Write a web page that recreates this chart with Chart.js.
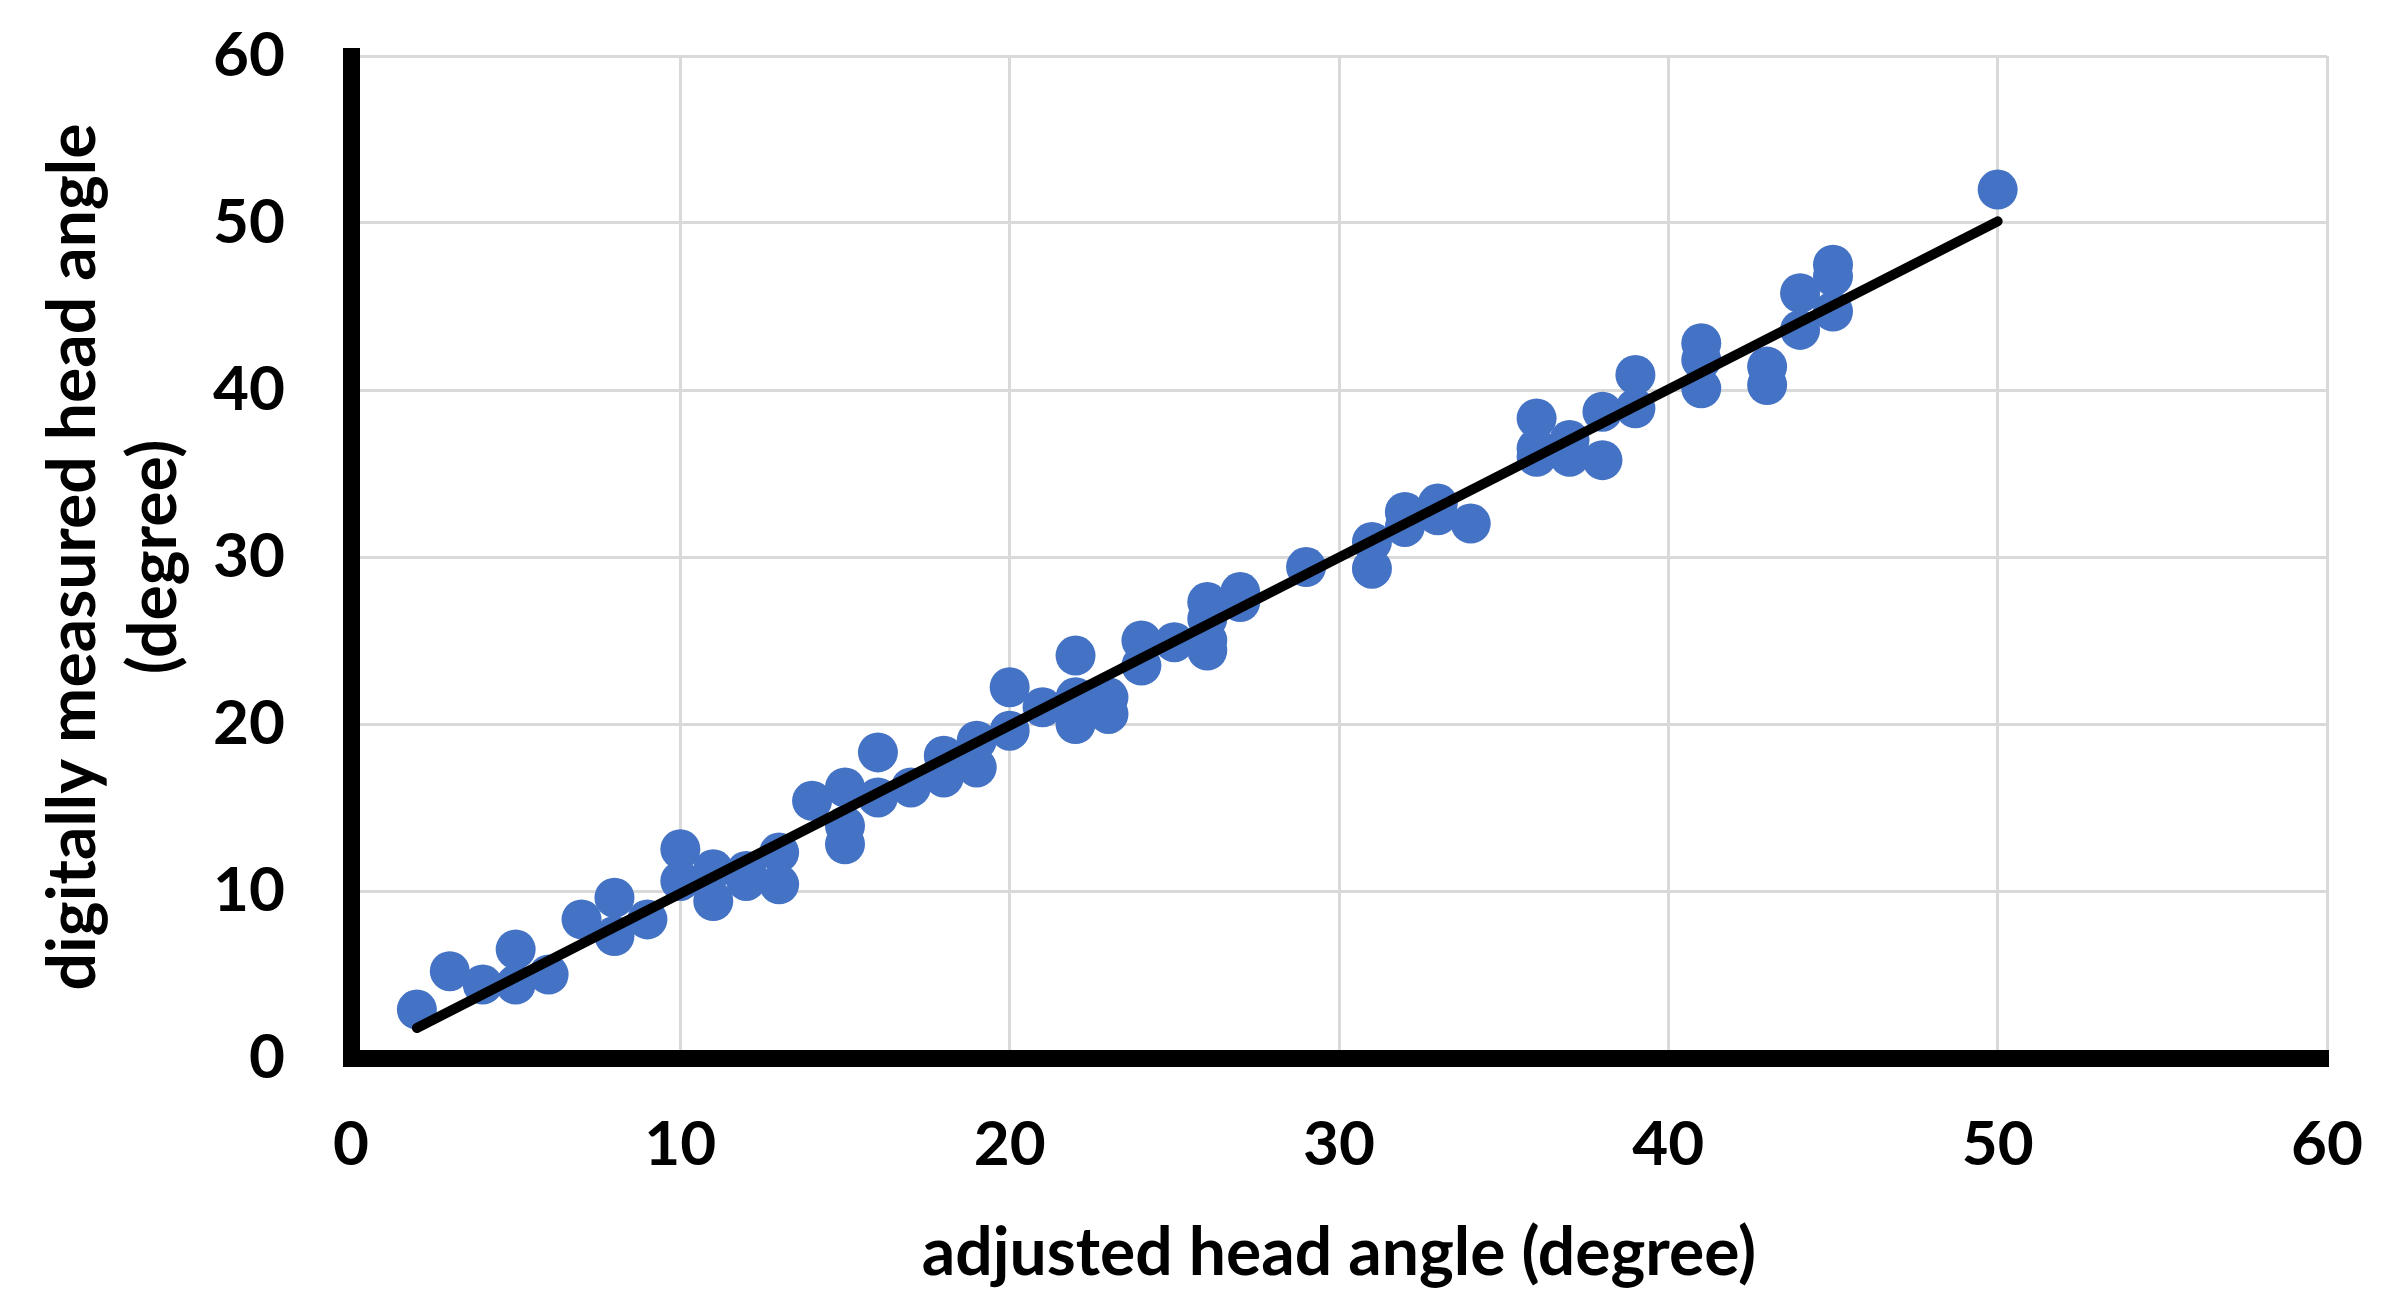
<!DOCTYPE html>
<html>
<head>
<meta charset="utf-8">
<script src="https://cdn.jsdelivr.net/npm/chart.js@4"></script>
<style>
  html, body { margin: 0; padding: 0; background: #fff; }
  #wrap { width: 2392px; height: 1314px; }
</style>
</head>
<body>
<div id="wrap"><canvas id="grafico" width="2392" height="1314"></canvas></div>
<script>
// adjusted head angle (x) vs digitally measured head angle (y)
const anguloAjustado = [
    2, 3, 4, 5, 5, 6, 7, 8, 8, 9,
    10, 10, 11, 11, 12, 12, 13, 13, 14, 15, 15, 15, 16, 16, 17, 18, 18, 19, 19,
    20, 20, 21, 22, 22, 22, 23, 23, 24, 24, 25, 26, 26, 26, 26, 27, 27, 29,
    31, 31, 32, 32, 33, 33, 34, 36, 36, 36, 37, 37, 38, 38, 39, 39,
    41, 41, 41, 43, 43, 44, 44, 45, 45, 45, 50
]
const anguloMedido = [
    2.9, 5.2, 4.4, 6.5, 4.4, 5.0, 8.3, 9.6, 7.3, 8.3,
    12.5, 10.6, 11.3, 9.4, 11.2, 10.6, 12.3, 10.4, 15.4, 16.2, 13.9, 12.8, 18.3, 15.6, 16.2, 18.1, 16.8, 19.0, 17.4,
    22.2, 19.6, 21.0, 24.1, 21.6, 20.0, 21.6, 20.6, 25.0, 23.5, 24.9, 27.3, 26.3, 25.0, 24.4, 27.9, 27.3, 29.4,
    30.9, 29.3, 32.7, 31.8, 33.2, 32.5, 32.0, 38.3, 36.5, 36.0, 37.0, 36.0, 38.7, 35.8, 40.9, 38.9,
    42.8, 41.8, 40.1, 41.4, 40.3, 45.8, 43.6, 47.5, 46.8, 44.7, 52.0
]

// trend line end points
const tendenciaX = [2, 50]
const tendenciaY = [1.8, 50.1]

const ticksEjes = [0, 10, 20, 30, 40, 50, 60]
const tituloX = 'adjusted head angle (degree)'
const tituloY = ['digitally measured head angle', '(degree)']

const puntos = anguloAjustado.map((x, i) => ({ x, y: anguloMedido[i] }))
const tendencia = tendenciaX.map((x, i) => ({ x, y: tendenciaY[i] }))

Chart.defaults.font.family = 'Lato'
Chart.defaults.color = '#000'

const fuenteTicks = { size: 62, weight: 'bold' }
const fuenteTitulo = { size: 66, weight: 'bold', lineHeight: 1.23 }
const grilla = { color: '#d9d9d9', lineWidth: 3, drawTicks: false }

new Chart(document.getElementById('grafico'), {
    type: 'scatter',
    data: {
        datasets: [{
            type: 'line',
            data: tendencia,
            borderColor: '#000',
            borderWidth: 10,
            borderCapStyle: 'round',
            pointRadius: 0,
            fill: false,
            order: 0
        }, {
            data: puntos,
            backgroundColor: '#4472C4',
            borderWidth: 0,
            pointRadius: 20,
            pointHoverRadius: 20,
            order: 1
        }]
    },
    options: {
        responsive: false,
        devicePixelRatio: 1,
        animation: false,
        layout: { padding: { top: 56, right: 65, left: 0, bottom: 0 } },
        plugins: {
            legend: { display: false },
            tooltip: { enabled: false }
        },
        scales: {
            x: {
                type: 'linear',
                min: 0,
                max: 60,
                afterBuildTicks: (s) => { s.ticks = ticksEjes.map(v => ({ value: v })) },
                afterFit: (s) => {
                    s.height = 256
                    s.paddingLeft = 0
                    s.paddingRight = 0
                },
                grid: grilla,
                border: { color: '#000', width: 17 },
                ticks: { font: fuenteTicks, padding: 50, color: '#000' },
                title: { display: true, text: tituloX, font: fuenteTitulo, color: '#000', padding: { top: 0, bottom: 20 } }
            },
            y: {
                type: 'linear',
                min: 0,
                max: 60,
                afterBuildTicks: (s) => { s.ticks = ticksEjes.map(v => ({ value: v })) },
                afterFit: (s) => {
                    s.width = 351
                    s.paddingTop = 0
                    s.paddingBottom = 0
                },
                grid: grilla,
                border: { color: '#000', width: 17 },
                ticks: { font: fuenteTicks, padding: 66, color: '#000' },
                title: { display: true, text: tituloY, font: fuenteTitulo, color: '#000', padding: { top: 33, bottom: 0 } }
            }
        }
    }
})
</script>
</body>
</html>
